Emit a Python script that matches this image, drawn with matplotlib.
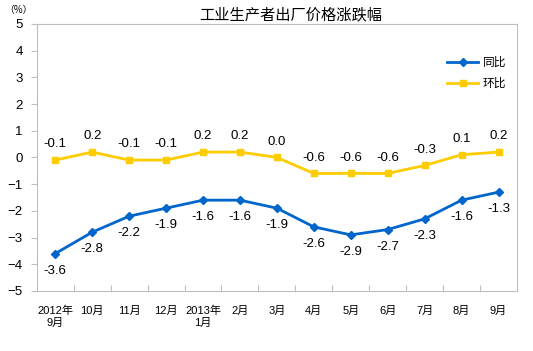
import matplotlib.pyplot as plt

plt.rcParams['font.family'] = ['Liberation Sans', 'Noto Sans CJK SC', 'DejaVu Sans']

# data
months = ['2012年\n9月', '10月', '11月', '12月', '2013年\n1月', '2月', '3月',
          '4月', '5月', '6月', '7月', '8月', '9月']
yoy = [-3.6, -2.8, -2.2, -1.9, -1.6, -1.6, -1.9, -2.6, -2.9, -2.7, -2.3, -1.6, -1.3]
mom = [-0.1, 0.2, -0.1, -0.1, 0.2, 0.2, 0.0, -0.6, -0.6, -0.6, -0.3, 0.1, 0.2]

blue = '#0066CC'
yellow = '#FFCC00'
frame = '#BEBEBE'

fig = plt.figure(figsize=(5.33, 3.51), dpi=100)
ax = fig.add_axes([0.069, 0.171, 0.901, 0.761])

x = range(len(months))
ax.plot(x, yoy, color=blue, lw=2, marker='D', ms=4.5, label='同比')
ax.plot(x, mom, color=yellow, lw=2, marker='s', ms=5, label='环比')

for i in x:
    ax.annotate(f'{yoy[i]:.1f}', (i, yoy[i]), xytext=(0, -8), textcoords='offset points',
                ha='center', va='top', fontsize=9.5)
    ax.annotate(f'{mom[i]:.1f}', (i, mom[i]), xytext=(0, 7), textcoords='offset points',
                ha='center', va='bottom', fontsize=9.5)

ax.set_xlim(-0.5, len(months) - 0.5)
ax.set_ylim(-5, 5)
ax.set_yticks(range(-5, 6))
ax.tick_params(axis='y', labelsize=9.5, length=4, color=frame, pad=6)
ax.set_xticks([i + 0.5 for i in range(len(months) - 1)])
ax.set_xticklabels([])
ax.tick_params(axis='x', direction='in', length=4, color=frame)
for i, lab in enumerate(months):
    ax.text(i, -5.55, lab, ha='center', va='top', fontsize=8,
            family=['Liberation Sans', 'Noto Sans CJK SC'])

for s in ax.spines.values():
    s.set_color(frame)

ax.legend(loc='upper right', bbox_to_anchor=(1.0, 0.92), frameon=False,
          handlelength=2.6, handletextpad=0.4, labelspacing=0.7,
          prop={'family': ['Noto Sans CJK SC'], 'size': 8.5})

fig.text(0.545, 0.958, '工业生产者出厂价格涨跌幅', ha='center', va='center', fontsize=11,
         family=['Noto Sans CJK SC'])
fig.text(0.035, 0.972, '（%）', ha='center', va='center', fontsize=7,
         family=['Noto Sans CJK SC'])

fig.savefig('out.png', dpi=100)
